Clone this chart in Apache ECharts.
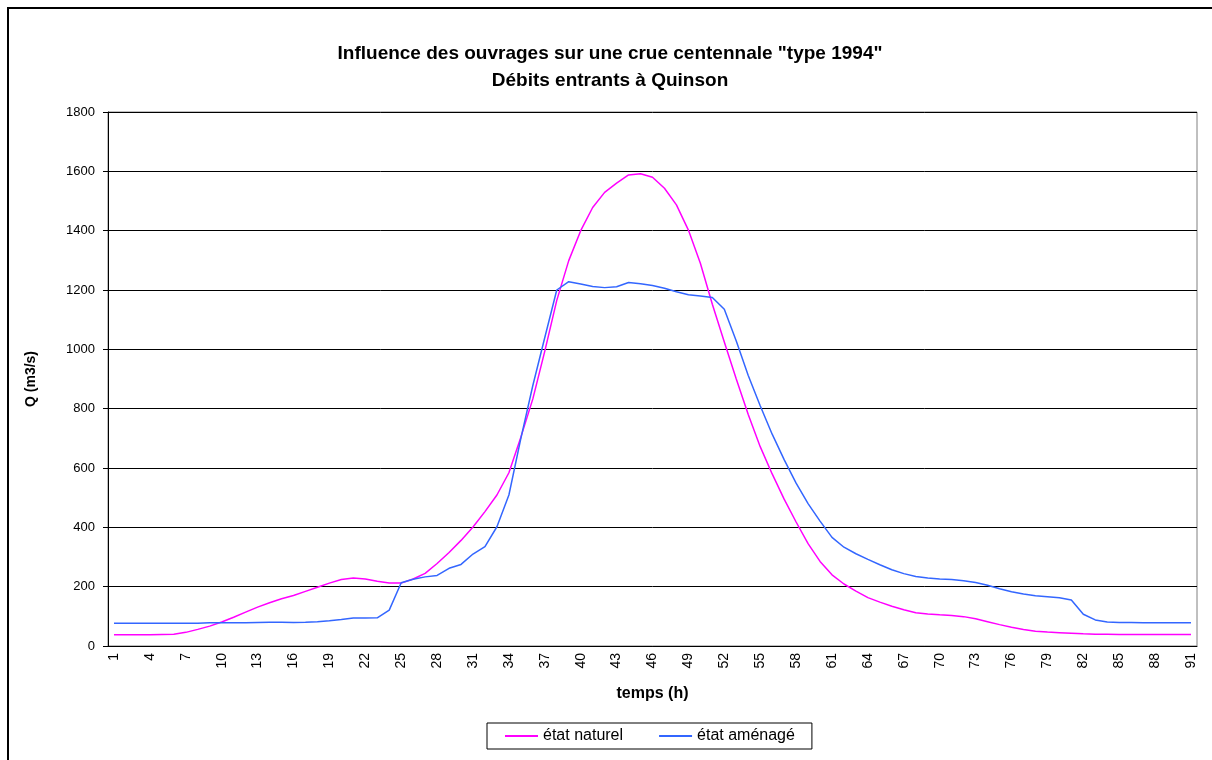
<!DOCTYPE html>
<html>
<head>
<meta charset="utf-8">
<script src="https://cdn.jsdelivr.net/npm/echarts@6/dist/echarts.min.js"></script>
<style>
  html, body { margin: 0; padding: 0; background: #fff; }
  #chart { width: 1212px; height: 760px; }
</style>
</head>
<body>
<div id="chart"></div>
<script>
// heures 1..91
const hours = Array.from({ length: 91 }, (_, i) => String(i + 1));

// état naturel (m3/s)
const etatNaturel = [
  38, 38, 38, 38, 39, 40, 46, 56, 67, 81,
  97, 114, 131, 146, 159, 170, 184, 198, 212, 224,
  229, 226, 218, 212, 212, 226, 245, 278, 315, 356,
  401, 453, 509, 584, 704, 833, 994, 1165, 1299, 1400,
  1478, 1529, 1560, 1588, 1592, 1580, 1543, 1487, 1402, 1290,
  1152, 1025, 900, 780, 672, 580, 495, 418, 345, 285,
  240, 209, 185, 163, 148, 134, 122, 112, 108, 105,
  103, 99, 92, 82, 72, 63, 56, 50, 47, 45,
  43, 41, 40, 40, 39, 39, 39, 39, 39, 39,
  39
];

// état aménagé (m3/s)
const etatAmenage = [
  77, 77, 77, 77, 77, 77, 77, 77, 78, 78,
  78, 78, 79, 80, 80, 79, 80, 82, 85, 89,
  94, 94, 95, 121, 213, 225, 233, 238, 262, 275,
  310, 335, 402, 509, 700, 878, 1040, 1200, 1228, 1220,
  1212, 1208, 1211, 1225, 1221, 1215, 1206, 1194, 1184, 1180,
  1175, 1135, 1028, 912, 810, 714, 628, 549, 480, 421,
  366, 333, 311, 292, 274, 257, 244, 234, 229, 226,
  224, 220, 214, 205, 193, 183, 175, 169, 166, 163,
  155, 107, 88, 81, 79, 79, 78, 78, 78, 78,
  78
];

const font = "'Liberation Sans', Arial, sans-serif";

const chart = echarts.init(document.getElementById("chart"));

const option = {
  animation: false,
  backgroundColor: "#fff",
  textStyle: { fontFamily: font, color: "#000" },
  graphic: [
    {
      type: "rect",
      shape: { x: 8, y: 8, width: 1400, height: 900 },
      style: { fill: null, stroke: "#000", lineWidth: 2 },
      silent: true,
    },
  ],
  title: {
    text: 'Influence des ouvrages sur une crue centennale "type 1994"\nDébits entrants à Quinson',
    left: 605,
    textAlign: "center",
    top: 35,
    textStyle: {
      fontFamily: font,
      fontSize: 19,
      fontWeight: "bold",
      color: "#000",
      lineHeight: 27,
    },
  },
  legend: {
    data: ["état naturel", "état aménagé"],
    left: 487,
    top: 723,
    icon: "rect",
    itemWidth: 33,
    itemHeight: 2,
    itemGap: 36,
    padding: [5, 17, 5, 18],
    borderColor: "#000",
    borderWidth: 1,
    backgroundColor: "#fff",
    textStyle: { fontFamily: font, fontSize: 16, color: "#000" },
  },
  grid: {
    left: 108,
    top: 112,
    width: 1089,
    height: 534,
    show: true,
    borderColor: "#808080",
    borderWidth: 1,
    backgroundColor: "#fff",
  },
  xAxis: {
    type: "category",
    data: hours,
    boundaryGap: true,
    name: "temps (h)",
    nameLocation: "middle",
    nameGap: 40,
    nameTextStyle: { fontFamily: font, fontSize: 16, fontWeight: "bold", color: "#000" },
    axisLine: { lineStyle: { color: "#000", width: 1 } },
    axisTick: { interval: 0, length: 5, lineStyle: { color: "#000" } },
    axisLabel: {
      interval: 2,
      rotate: 90,
      fontFamily: font,
      fontSize: 14,
      color: "#000",
      margin: 7,
    },
    splitLine: { show: false },
  },
  yAxis: {
    type: "value",
    min: 0,
    max: 1800,
    interval: 200,
    name: "Q (m3/s)",
    nameLocation: "middle",
    nameGap: 70,
    nameRotate: 90,
    nameTextStyle: { fontFamily: font, fontSize: 14, fontWeight: "bold", color: "#000" },
    axisLine: { show: true, lineStyle: { color: "#000", width: 1 } },
    axisTick: { show: true, length: 5, lineStyle: { color: "#000" } },
    axisLabel: {
      fontFamily: font,
      fontSize: 13,
      color: "#000",
      margin: 13,
      formatter: (v) => String(v),
    },
    splitLine: { lineStyle: { color: "#000", width: 1 } },
  },
  series: [
    {
      name: "état naturel",
      type: "line",
      data: etatNaturel,
      symbol: "none",
      lineStyle: { color: "#FF00FF", width: 1.5 },
      itemStyle: { color: "#FF00FF" },
    },
    {
      name: "état aménagé",
      type: "line",
      data: etatAmenage,
      symbol: "none",
      lineStyle: { color: "#3366FF", width: 1.5 },
      itemStyle: { color: "#3366FF" },
    },
  ],
};

chart.setOption(option);
</script>
</body>
</html>
